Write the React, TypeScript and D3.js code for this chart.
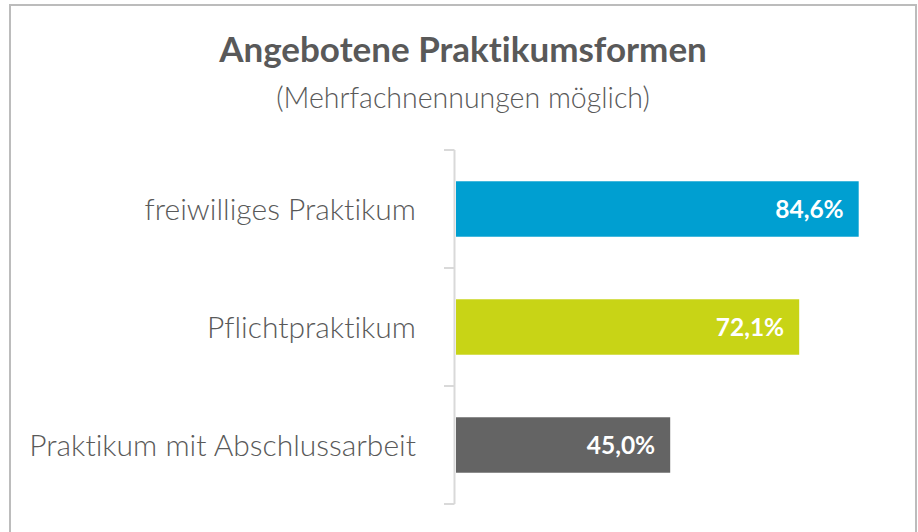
import React from "react";
import * as d3 from "d3";

const categories = ["freiwilliges Praktikum", "Pflichtpraktikum", "Praktikum mit Abschlussarbeit"];
const values = [84.6, 72.1, 45.0];
const colors = ["#009fd1", "#c8d416", "#646464"];
const title = "Angebotene Praktikumsformen";
const subtitle = "(Mehrfachnennungen möglich)";

const W = 918;
const H = 532;

export default function App() {
  const y = d3.scaleBand<string>().domain(categories).range([150, 504]).paddingInner(0.53).paddingOuter(0.265);
  const x = d3.scaleLinear().domain([0, 100]).range([456, 932]);
  const axisX = 454.5;
  const step = y.step();
  const y0 = y.range()[0];
  const tickYs = d3.range(categories.length + 1).map((i) => y0 + i * step);
  const fmt = (v: number) => v.toFixed(1).replace(".", ",") + "%";
  const font = "Lato, 'Open Sans', sans-serif";

  return (
    <svg width={W} height={H} style={{ position: "absolute", left: 0, top: 0, background: "#fff", fontVariantLigatures: "none" }} fontFamily={font}>
      <rect x={10} y={5} width={906} height={H + 10} fill="#fff" stroke="#bcbcbc" strokeWidth={2} />
      <text x={463} y={62} textAnchor="middle" fontSize={35} fontWeight={700} fill="#595959">{title}</text>
      <text x={463} y={108} textAnchor="middle" fontSize={28.5} fontWeight={300} fill="#595959">{subtitle}</text>
      <line x1={axisX} x2={axisX} y1={tickYs[0]} y2={tickYs[tickYs.length - 1]} stroke="#d9d9d9" strokeWidth={2} />
      {tickYs.map((t, i) => (
        <line key={i} x1={444} x2={axisX} y1={t} y2={t} stroke="#d9d9d9" strokeWidth={2} />
      ))}
      {categories.map((c, i) => {
        const by = y(c)!;
        const bw = y.bandwidth();
        const cy = by + bw / 2;
        return (
          <g key={c}>
            <rect x={x(0)} y={by} width={x(values[i]) - x(0)} height={bw} fill={colors[i]} />
            <text x={416} y={cy} dy="0.35em" textAnchor="end" fontSize={30} fontWeight={300} fill="#595959">{c}</text>
            <text x={x(values[i]) - 15} y={cy} dy="0.35em" textAnchor="end" fontSize={24.5} fontWeight={700} fill="#fff">{fmt(values[i])}</text>
          </g>
        );
      })}
    </svg>
  );
}
